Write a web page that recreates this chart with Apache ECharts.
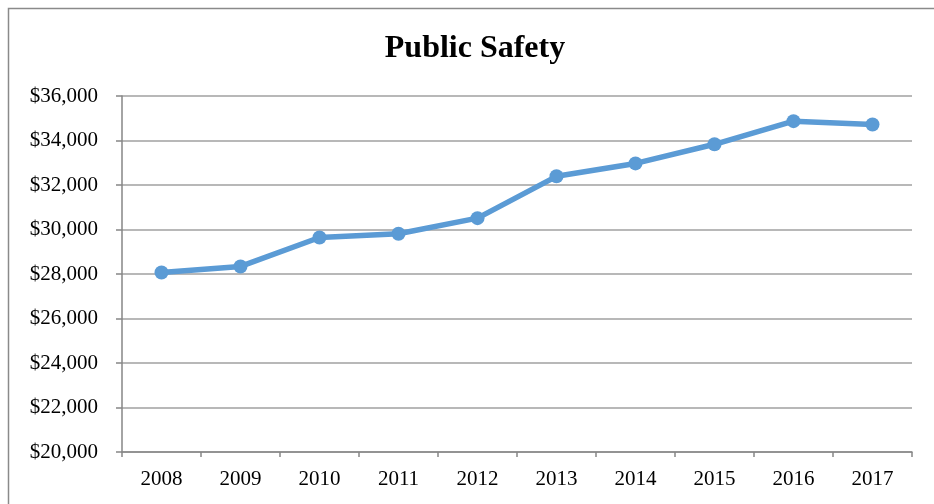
<!DOCTYPE html>
<html><head><meta charset="utf-8">
<script src="https://cdn.jsdelivr.net/npm/echarts@6/dist/echarts.min.js"></script>
<style>html,body{margin:0;padding:0;background:#fff}#c{width:934px;height:504px}</style>
</head><body><div id="c"></div>
<script>
const categories = ['2008','2009','2010','2011','2012','2013','2014','2015','2016','2017'];
const values = [28070, 28340, 29640, 29810, 30510, 32390, 32970, 33830, 34870, 34720];
const chartTitle = 'Public Safety';

const chart = echarts.init(document.getElementById('c'), null, {renderer:'canvas'});
const font = '"Liberation Serif", "Times New Roman", serif';
chart.setOption({
  animation: false,
  backgroundColor: '#fff',
  graphic: [{
    type: 'rect', left: 6, top: 6, silent: true,
    shape: {width: 2000, height: 2000},
    style: {fill: 'none', stroke: '#8a8a8a', lineWidth: 1.5}
  }],
  title: {
    text: chartTitle, left: 470, textAlign: 'center', top: 28,
    textStyle: {fontFamily: font, fontSize: 32, fontWeight: 'bold', color: '#000'}
  },
  grid: {left: 122, right: 22, top: 96, bottom: 52, containLabel: false},
  xAxis: {
    type: 'category', data: categories, boundaryGap: true,
    axisLine: {lineStyle: {color: '#868686', width: 1.5}},
    axisTick: {show: true, length: 5, alignWithLabel: false, lineStyle: {color: '#868686', width: 1.5}},
    axisLabel: {fontFamily: font, fontSize: 21, color: '#000', margin: 17},
    splitLine: {show: false}
  },
  yAxis: {
    type: 'value', min: 20000, max: 36000, interval: 2000,
    axisLine: {show: true, lineStyle: {color: '#868686', width: 1.5}},
    axisTick: {show: true, length: 6, lineStyle: {color: '#868686', width: 1.5}},
    axisLabel: {fontFamily: font, fontSize: 21, color: '#000', margin: 24,
      formatter: v => '$' + v.toLocaleString('en-US')},
    splitLine: {show: true, lineStyle: {color: '#a0a0a0', width: 1.5}}
  },
  series: [{
    type: 'line', data: values,
    lineStyle: {color: '#5B9BD5', width: 5.5},
    itemStyle: {color: '#5B9BD5'},
    symbol: 'circle', symbolSize: 14, showSymbol: true
  }]
});
</script></body></html>
